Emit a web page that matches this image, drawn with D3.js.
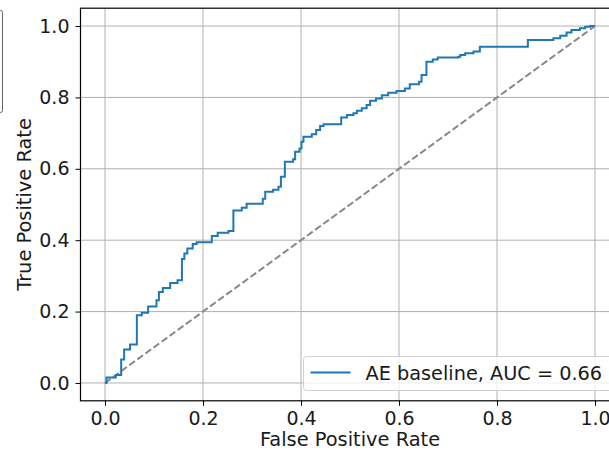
<!DOCTYPE html>
<html>
<head>
<meta charset="utf-8">
<script src="https://cdn.jsdelivr.net/npm/d3@7"></script>
<style>
  body { margin: 0; background: #fff; }
  svg { display: block; font-family: "DejaVu Sans", sans-serif; }
</style>
</head>
<body>
<div id="chart"></div>
<script>
// ROC curve corners (fpr where the step happens, tpr after the step)
var fpr = [0, 0.003, 0.022, 0.033, 0.039, 0.051, 0.065, 0.075, 0.088, 0.105,
  0.110, 0.118, 0.133, 0.148, 0.157, 0.162, 0.168, 0.179, 0.187, 0.218,
  0.230, 0.252, 0.262, 0.279, 0.289, 0.322, 0.327, 0.343, 0.354, 0.359,
  0.367, 0.384, 0.388, 0.397, 0.401, 0.405, 0.422, 0.431, 0.439, 0.446,
  0.482, 0.494, 0.507, 0.514, 0.524, 0.534, 0.541, 0.553, 0.565, 0.578,
  0.595, 0.612, 0.622, 0.641, 0.646, 0.656, 0.669, 0.679, 0.721, 0.725,
  0.735, 0.752, 0.765, 0.863, 0.915, 0.929, 0.942, 0.952, 0.969, 0.980,
  0.990, 1.0]
var tpr = [0, 0.015, 0.022, 0.066, 0.094, 0.108, 0.190, 0.197, 0.214, 0.232,
  0.255, 0.266, 0.280, 0.288, 0.347, 0.363, 0.377, 0.389, 0.394, 0.412,
  0.421, 0.426, 0.483, 0.491, 0.502, 0.516, 0.536, 0.541, 0.550, 0.578,
  0.620, 0.627, 0.648, 0.657, 0.676, 0.690, 0.697, 0.709, 0.720, 0.725,
  0.744, 0.751, 0.756, 0.763, 0.770, 0.779, 0.791, 0.797, 0.806, 0.813,
  0.818, 0.825, 0.837, 0.844, 0.863, 0.900, 0.906, 0.912, 0.914, 0.919,
  0.924, 0.929, 0.942, 0.961, 0.966, 0.973, 0.982, 0.989, 0.994, 0.998,
  1.0, 1.0]
var chance = [0, 1]
var ticks = [0, 0.2, 0.4, 0.6, 0.8, 1.0]
var legendLabel = "AE baseline, AUC = 0.66"

var width = 609, height = 450
var svg = d3.select("#chart").append("svg")
  .attr("width", width)
  .attr("height", height)

// piece of a neighbouring legend box peeking in at the left edge
svg.append("rect")
  .attr("x", -60).attr("y", 10.5)
  .attr("width", 62.5).attr("height", 102)
  .attr("rx", 2)
  .attr("fill", "none")
  .attr("stroke", "#666")
  .attr("stroke-width", 1)

var x = d3.scaleLinear().domain([-0.05, 1.05]).range([80.5, 619.5])
var y = d3.scaleLinear().domain([-0.05, 1.05]).range([400.8, 8.2])

// grid
var grid = svg.append("g").attr("class", "grid")
grid.selectAll(".gx").data(ticks).enter().append("line")
  .attr("x1", d => x(d)).attr("x2", d => x(d))
  .attr("y1", y(1.05)).attr("y2", y(-0.05))
  .attr("stroke", "#b0b0b0").attr("stroke-width", 1)
grid.selectAll(".gy").data(ticks).enter().append("line")
  .attr("x1", x(-0.05)).attr("x2", x(1.05))
  .attr("y1", d => y(d)).attr("y2", d => y(d))
  .attr("stroke", "#b0b0b0").attr("stroke-width", 1)

// chance diagonal
var diag = d3.line().x(d => x(d)).y(d => y(d))
svg.append("path")
  .datum(chance)
  .attr("d", diag)
  .attr("fill", "none")
  .attr("stroke", "#888")
  .attr("stroke-width", 2)
  .attr("stroke-dasharray", "7,3")

// roc curve
var pts = fpr.map((f, i) => [f, tpr[i]])
var line = d3.line()
  .x(d => x(d[0]))
  .y(d => y(d[1]))
  .curve(d3.curveStepAfter)
svg.append("path")
  .datum(pts)
  .attr("d", line)
  .attr("fill", "none")
  .attr("stroke", "#1f77b4")
  .attr("stroke-width", 2)

// axes
var xAxis = d3.axisBottom(x).tickValues(ticks).tickFormat(d3.format(".1f"))
  .tickSizeOuter(0).tickSize(5).tickPadding(6)
var gx = svg.append("g")
  .attr("transform", "translate(0," + y(-0.05) + ")")
  .call(xAxis)
var yAxis = d3.axisLeft(y).tickValues(ticks).tickFormat(d3.format(".1f"))
  .tickSizeOuter(0).tickSize(5).tickPadding(6)
var gy = svg.append("g")
  .attr("transform", "translate(" + x(-0.05) + ",0)")
  .call(yAxis)
;[gx, gy].forEach(function(g){
  g.select(".domain").remove()
  g.selectAll(".tick line").attr("stroke", "#000").attr("stroke-width", 1)
  g.selectAll(".tick text").attr("fill", "#1a1a1a")
    .style("font-size", "19px").style("font-family", "DejaVu Sans")
})

// spines
svg.append("rect")
  .attr("x", x(-0.05)).attr("y", y(1.05))
  .attr("width", x(1.05) - x(-0.05))
  .attr("height", y(-0.05) - y(1.05))
  .attr("fill", "none")
  .attr("stroke", "#000")
  .attr("stroke-width", 1.2)

// axis labels
svg.append("text")
  .attr("x", (x(-0.05) + x(1.05)) / 2)
  .attr("y", 446)
  .attr("text-anchor", "middle")
  .attr("fill", "#1a1a1a")
  .style("font-size", "19.4px")
  .text("False Positive Rate")
svg.append("text")
  .attr("transform", "translate(31," + ((y(-0.05) + y(1.05)) / 2) + ") rotate(-90)")
  .attr("text-anchor", "middle")
  .attr("fill", "#1a1a1a")
  .style("font-size", "19.4px")
  .text("True Positive Rate")

// legend
var lg = svg.append("g").attr("transform", "translate(303.5,356.5)")
lg.append("rect")
  .attr("width", 330).attr("height", 34)
  .attr("rx", 3)
  .attr("fill", "#fff").attr("fill-opacity", 0.8)
  .attr("stroke", "#d0d0d0").attr("stroke-width", 1)
lg.append("line")
  .attr("x1", 7).attr("x2", 47)
  .attr("y1", 16).attr("y2", 16)
  .attr("stroke", "#1f77b4").attr("stroke-width", 2)
lg.append("text")
  .attr("x", 62).attr("y", 23)
  .attr("fill", "#1a1a1a")
  .style("font-size", "19.3px")
  .text(legendLabel)
</script>
</body>
</html>
